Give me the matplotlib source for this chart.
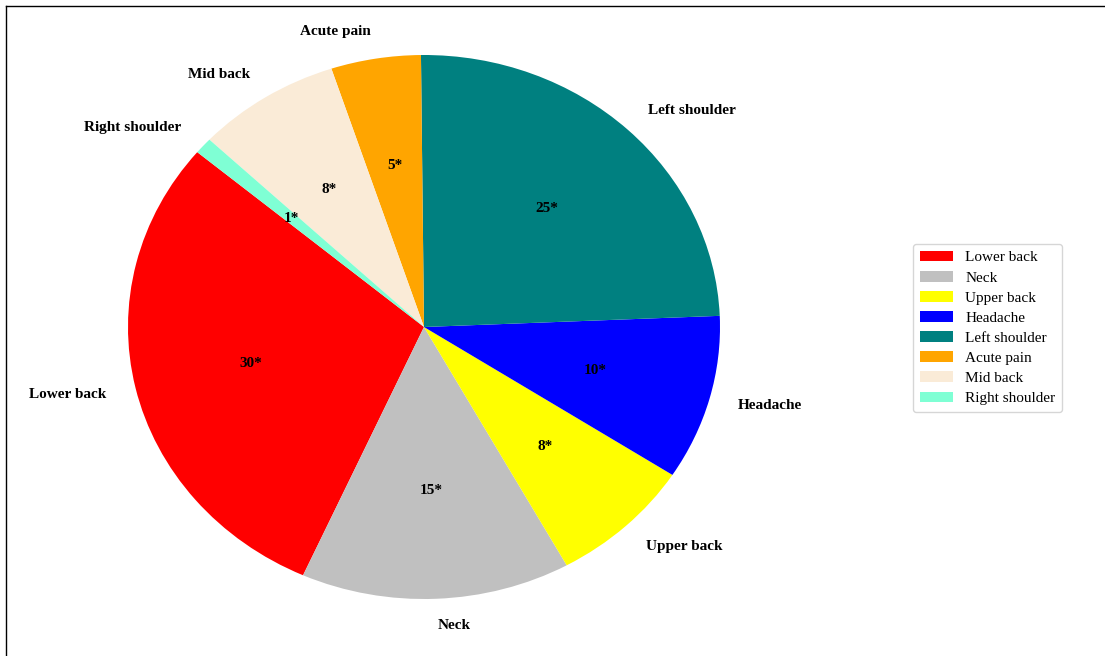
import matplotlib
matplotlib.use("Agg")
import matplotlib.pyplot as plt
from matplotlib.lines import Line2D

# Datos del grafico
categorias = ['Lower back', 'Neck', 'Upper back', 'Headache',
              'Left shoulder', 'Acute pain', 'Mid back', 'Right shoulder']
valores = [30, 15, 8, 10, 25, 5, 8, 1]
colores = ['red', 'silver', 'yellow', 'blue', 'teal', 'orange',
           'antiquewhite', 'aquamarine']

plt.rcParams['font.family'] = ['Liberation Serif', 'DejaVu Serif']

total = sum(valores)

fig = plt.figure(figsize=(11.05, 6.56), dpi=100)
ax = fig.add_axes([54 / 1105, -11 / 656, 740 / 1105, 680 / 656])

wedges, textos, autotextos = ax.pie(
    valores, labels=categorias, colors=colores, startangle=140,
    autopct=lambda p: '{:.0f}*'.format(p * total / 100),
    labeldistance=1.1, pctdistance=0.6,
    textprops={'fontsize': 11, 'fontweight': 'bold'})
ax.set_aspect('auto')
ax.set_xlim(-1.25, 1.25)
ax.set_ylim(-1.25, 1.25)

fig.legend(wedges, categorias, loc='center left',
           bbox_to_anchor=(905 / 1105, 1 - 328 / 656),
           fontsize=11, frameon=True, labelspacing=0.42,
           handlelength=2.2, borderpad=0.45)

# Borde de la figura (izquierda y arriba)
fig.add_artist(Line2D([6 / 1105, 6 / 1105], [0, 1 - 6 / 656], color='black', lw=1))
fig.add_artist(Line2D([6 / 1105, 1], [1 - 6 / 656, 1 - 6 / 656], color='black', lw=1))

plt.savefig('out.png', dpi=100)
